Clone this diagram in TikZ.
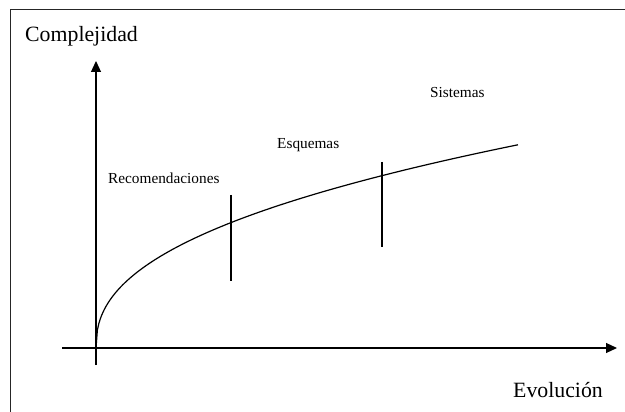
\documentclass[tikz,border=0pt]{standalone}
\usepackage{fontspec}
\setmainfont{Liberation Serif}
\usetikzlibrary{arrows.meta}
\begin{document}
\begin{tikzpicture}[x=1pt,y=-1pt,
  frame/.style={line width=0.9pt,black!85},
  axis/.style={line width=1.1pt,-{Triangle[length=11pt,width=10pt]}},
  curve/.style={line width=1.2pt},
  tickline/.style={line width=1.1pt},
  big/.style={inner sep=0pt,font=\fontsize{21.8}{24}\selectfont},
  small/.style={inner sep=0pt,font=\fontsize{15.3}{17}\selectfont}]
\useasboundingbox (0,0) rectangle (625,412);
% frame
\coordinate (fbl) at (10,412);
\coordinate (ftl) at (10,9);
\coordinate (ftr) at (625,9);
\draw[frame] (fbl) -- (ftl) -- (ftr);
% axes
\coordinate (O) at (96,348);
\coordinate (ybot) at (96,365);
\coordinate (ytop) at (96,61);
\coordinate (xleft) at (62,348);
\coordinate (xright) at (617,348);
\draw[axis] (ybot) -- (ytop);
\draw[axis] (xleft) -- (xright);
% curve
\draw[curve] plot[domain=0:422,samples=300,variable=\t]
  ({96+\t},{348-15.7*(\t)^0.4236});
% ticks
\coordinate (t1a) at (231,195);
\coordinate (t1b) at (231,281);
\coordinate (t2a) at (382,162);
\coordinate (t2b) at (382,247);
\draw[tickline] (t1a) -- (t1b);
\draw[tickline] (t2a) -- (t2b);
% labels
\node[big,anchor=base west] (lc) at (25,42) {Complejidad};
\node[big,anchor=base west] (le) at (513,397) {Evolución};
\node[small,anchor=base west] (lr) at (108,183) {Recomendaciones};
\node[small,anchor=base west] (lq) at (277,149) {Esquemas};
\node[small,anchor=base west] (ls) at (430,98) {Sistemas};
\end{tikzpicture}
\end{document}
